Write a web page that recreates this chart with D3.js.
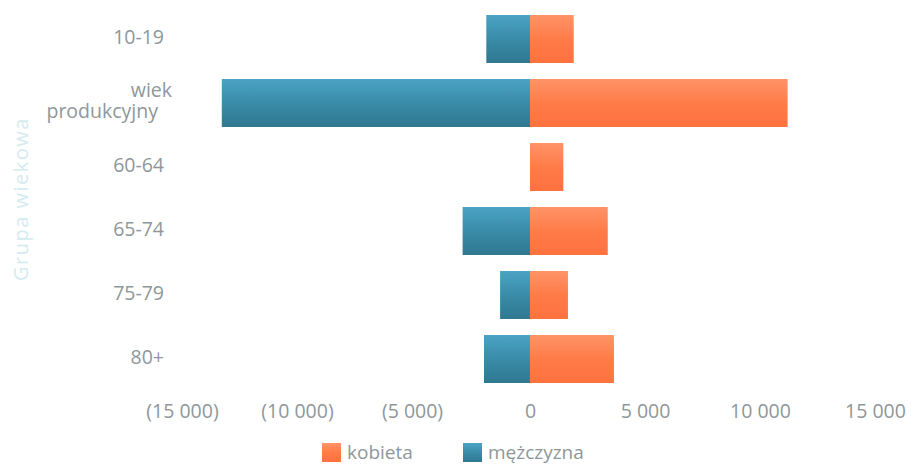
<!DOCTYPE html>
<html>
<head>
<meta charset="utf-8">
<script src="https://cdn.jsdelivr.net/npm/d3@7"></script>
<style>
  html, body { margin: 0; padding: 0; background: #ffffff; }
  svg { display: block; }
  text { font-family: "Open Sans", "DejaVu Sans", sans-serif; }
</style>
</head>
<body>
<svg id="chart" width="911" height="465"></svg>
<script>
// ---- data ----
const categories = ["10-19", "wiek produkcyjny", "60-64", "65-74", "75-79", "80+"];
const kobieta    = [1900, 11200, 1450, 3380, 1650, 3650];
const mezczyzna  = [-1900, -13400, 0, -2930, -1300, -2000];
const tickValues = [-15000, -10000, -5000, 0, 5000, 10000, 15000];
const seriesNames = ["kobieta", "mężczyzna"];
const axisTitle = "Grupa wiekowa";

// ---- styles ----
const textCol = "#8e979a";

const svg = d3.select("#chart");
const defs = svg.append("defs");
function grad(id, top, mid, bottom) {
  const g = defs.append("linearGradient").attr("id", id)
    .attr("x1", 0).attr("y1", 0).attr("x2", 0).attr("y2", 1);
  g.append("stop").attr("offset", "0%").attr("stop-color", top);
  g.append("stop").attr("offset", "50%").attr("stop-color", mid);
  g.append("stop").attr("offset", "100%").attr("stop-color", bottom);
}
grad("gM", "#4aa3c4", "#3a8ca8", "#2f7891");
grad("gF", "#ff9468", "#ff7b48", "#ff7240");

const x = d3.scaleLinear().domain([-15000, 15000]).range([185, 875]);
const y = d3.scaleBand().domain(categories).range([7, 391])
  .paddingInner(0.25).paddingOuter(0.125);

const fmtNum = v => d3.format(",")(Math.abs(v)).replace(/,/g, " ");
const fmt = v => v < 0 ? "(" + fmtNum(v) + ")" : fmtNum(v);

// bars: male (negative)
svg.append("g").selectAll("rect").data(categories).join("rect")
  .attr("x", (d, i) => x(Math.min(0, mezczyzna[i])))
  .attr("y", d => y(d))
  .attr("width", (d, i) => Math.abs(x(mezczyzna[i]) - x(0)))
  .attr("height", y.bandwidth())
  .attr("fill", "url(#gM)");

// bars: female (positive)
svg.append("g").selectAll("rect").data(categories).join("rect")
  .attr("x", x(0))
  .attr("y", d => y(d))
  .attr("width", (d, i) => Math.abs(x(kobieta[i]) - x(0)))
  .attr("height", y.bandwidth())
  .attr("fill", "url(#gF)");

// x axis
const xAxis = d3.axisBottom(x).tickValues(tickValues).tickFormat(fmt).tickSize(0).tickPadding(0);
const gx = svg.append("g").attr("transform", "translate(0,404)").call(xAxis);
gx.select(".domain").remove();
gx.selectAll("text").attr("fill", textCol).attr("font-size", 19.5).attr("dy", "0.71em")
  .attr("dx", d => d < 0 ? -3 : 0);

// y axis labels
const yAxis = d3.axisLeft(y).tickSize(0).tickPadding(0).tickFormat(() => "");
const gy = svg.append("g").attr("transform", "translate(164,0)").call(yAxis);
gy.select(".domain").remove();
gy.selectAll(".tick").each(function(d) {
  const t = d3.select(this).append("text")
    .attr("fill", textCol).attr("font-size", 19.5).attr("text-anchor", "end");
  if (d === "wiek produkcyjny") {
    t.append("tspan").attr("x", 8).attr("y", -6).text("wiek");
    t.append("tspan").attr("x", -6).attr("y", 15).text("produkcyjny");
  } else {
    t.attr("x", 0).attr("dy", "0.23em").text(d);
  }
});

// axis title
svg.append("text")
  .attr("transform", "translate(28,199) rotate(-90)")
  .attr("text-anchor", "middle")
  .attr("fill", "#d3ebf1")
  .attr("font-size", 20)
  .attr("letter-spacing", 1.5)
  .text(axisTitle);

// legend
const legendX = [322, 463];
const legendFill = ["url(#gF)", "url(#gM)"];
const lg = svg.append("g").selectAll("g").data(seriesNames).join("g")
  .attr("transform", (d, i) => `translate(${legendX[i]},443)`);
lg.append("rect").attr("width", 19).attr("height", 19).attr("fill", (d, i) => legendFill[i]);
lg.append("text").attr("x", 25).attr("y", 15.5).attr("fill", textCol).attr("font-size", 19).text(d => d);
</script>
</body>
</html>
